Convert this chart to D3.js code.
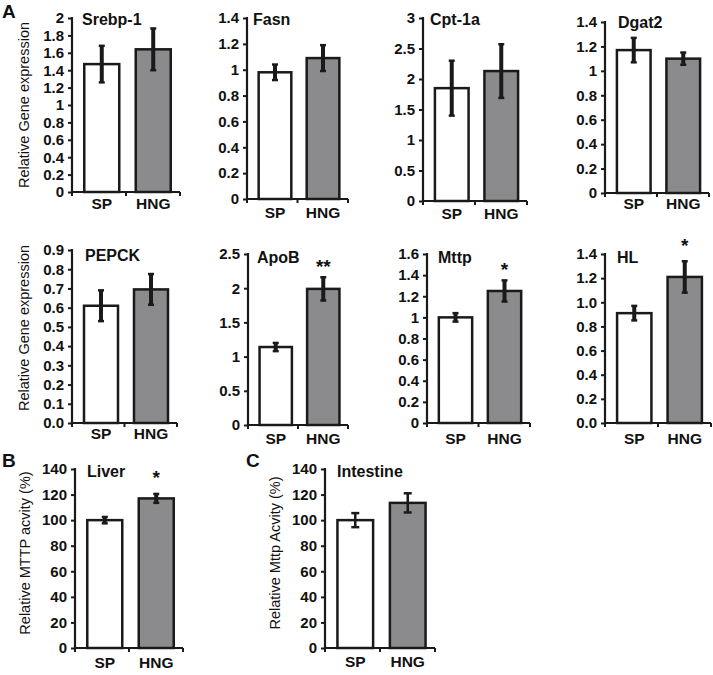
<!DOCTYPE html>
<html>
<head>
<meta charset="utf-8">
<script src="https://cdn.jsdelivr.net/npm/d3@7"></script>
<style>
  body { margin: 0; background: #fff; }
  text { font-family: "Liberation Sans", Arial, sans-serif; fill: #111; }
</style>
</head>
<body>
<script>
// ---- data ----
var groups = ["SP", "HNG"];

// panel A, relative gene expression
var genes = ["Srebp-1", "Fasn", "Cpt-1a", "Dgat2", "PEPCK", "ApoB", "Mttp", "HL"];
var spMean = [1.47, 0.98, 1.85, 1.17, 0.61, 1.14, 1.00, 0.91];
var spErr = [0.21, 0.06, 0.45, 0.10, 0.08, 0.06, 0.04, 0.06];
var hngMean = [1.64, 1.09, 2.13, 1.10, 0.695, 1.99, 1.25, 1.21];
var hngErr = [0.24, 0.10, 0.44, 0.05, 0.08, 0.17, 0.10, 0.13];
var geneSignif = ["", "", "", "", "", "**", "*", "*"];
var geneTicks = [
  ["0", "0.2", "0.4", "0.6", "0.8", "1", "1.2", "1.4", "1.6", "1.8", "2"],
  ["0", "0.2", "0.4", "0.6", "0.8", "1", "1.2", "1.4"],
  ["0", "0.5", "1", "1.5", "2", "2.5", "3"],
  ["0", "0.2", "0.4", "0.6", "0.8", "1", "1.2", "1.4"],
  ["0.0", "0.1", "0.2", "0.3", "0.4", "0.5", "0.6", "0.7", "0.8", "0.9"],
  ["0", "0.5", "1", "1.5", "2", "2.5"],
  ["0", "0.2", "0.4", "0.6", "0.8", "1", "1.2", "1.4", "1.6"],
  ["0.0", "0.2", "0.4", "0.6", "0.8", "1.0", "1.2", "1.4"]
];

// panels B and C, MTTP activity
var tissues = ["Liver", "Intestine"];
var actSp = [100, 100];
var actSpErr = [2.5, 5.5];
var actHng = [117, 113.5];
var actHngErr = [3.5, 7.5];
var actSignif = ["*", ""];
var actTicks = ["0", "20", "40", "60", "80", "100", "120", "140"];

// ---- layout (pixel frame of each little plot) ----
var geneFrames = [
  {x0: 72,  top: 18,  bot: 192, x1: 180, lab: 209, tx: 10, ty: 25,  sdy: 0},
  {x0: 247, top: 18,  bot: 199, x1: 348, lab: 218, tx: 6,  ty: 25,  sdy: 0},
  {x0: 423, top: 18,  bot: 201, x1: 527, lab: 219, tx: 7,  ty: 25,  sdy: 0},
  {x0: 605, top: 22,  bot: 193, x1: 709, lab: 209, tx: 13, ty: 28,  sdy: 0},
  {x0: 72,  top: 250, bot: 423, x1: 177, lab: 439, tx: 13, ty: 261, sdy: 0},
  {x0: 248, top: 254, bot: 425, x1: 348, lab: 444, tx: 9,  ty: 263, sdy: -1},
  {x0: 427, top: 254, bot: 423, x1: 530, lab: 444, tx: 11, ty: 263, sdy: -1},
  {x0: 605, top: 254, bot: 423, x1: 711, lab: 444, tx: 12, ty: 263, sdy: -6}
];
var actFrames = [
  {x0: 75,  top: 469, bot: 648, x1: 183, lab: 668, tx: 12, ty: 477, sdy: -7},
  {x0: 325, top: 469, bot: 648, x1: 435, lab: 667, tx: 12, ty: 477, sdy: 0}
];

var GREY = "#8b8b8d";

var svg = d3.select("body").append("svg")
    .attr("width", 713)
    .attr("height", 675);

// draw one small bar plot
function drawPanel(f, title, ticks, vals, errs, star, thinErr) {
  var g = svg.append("g");
  var tickVals = ticks.map(Number);
  var y = d3.scaleLinear()
      .domain([0, tickVals[tickVals.length - 1]])
      .range([f.bot, f.top]);
  var x = d3.scaleBand()
      .domain(groups)
      .range([f.x0 + 3, f.x1])
      .paddingInner(0.32)
      .paddingOuter(0.18);

  // bars
  g.selectAll("rect.bar")
    .data(groups)
    .enter().append("rect")
      .attr("class", "bar")
      .attr("x", function(d) { return x(d); })
      .attr("width", x.bandwidth())
      .attr("y", function(d, i) { return y(vals[i]); })
      .attr("height", function(d, i) { return f.bot - y(vals[i]); })
      .attr("fill", function(d, i) { return i == 0 ? "#fff" : GREY; })
      .attr("stroke", "#1a1a1a")
      .attr("stroke-width", 2.5);

  // error bars
  var capW = thinErr ? 4 : 3;
  groups.forEach(function(d, i) {
    var cx = x(d) + x.bandwidth() / 2;
    var lo = y(vals[i] - errs[i]), hi = y(vals[i] + errs[i]);
    g.append("line")
      .attr("x1", cx).attr("x2", cx)
      .attr("y1", lo).attr("y2", hi)
      .attr("stroke", "#1a1a1a")
      .attr("stroke-width", thinErr ? 2.5 : 4);
    [lo, hi].forEach(function(yy) {
      g.append("line")
        .attr("x1", cx - capW).attr("x2", cx + capW)
        .attr("y1", yy).attr("y2", yy)
        .attr("stroke", "#1a1a1a")
        .attr("stroke-width", 2.5);
    });
  });

  // y axis
  var yAxis = d3.axisLeft(y)
      .tickValues(tickVals)
      .tickFormat(function(d, i) { return ticks[i]; })
      .tickSize(4)
      .tickPadding(4);
  var ya = g.append("g")
      .attr("transform", "translate(" + f.x0 + ",0)")
      .call(yAxis);
  ya.select(".domain").remove();
  ya.append("line")
    .attr("x1", 0).attr("x2", 0)
    .attr("y1", f.top - 1).attr("y2", f.bot + 1)
    .attr("stroke", "#1a1a1a").attr("stroke-width", 2.2);
  ya.selectAll(".tick line").attr("stroke", "#1a1a1a").attr("stroke-width", 2);
  ya.selectAll(".tick text")
    .style("font-size", "15px")
    .style("font-weight", "bold")
    .attr("fill", "#111");

  // x axis line with ticks at ends and middle
  g.append("line")
    .attr("x1", f.x0 - 1).attr("x2", f.x1)
    .attr("y1", f.bot).attr("y2", f.bot)
    .attr("stroke", "#1a1a1a").attr("stroke-width", 2.2);
  [f.x0, (f.x0 + f.x1) / 2, f.x1].forEach(function(tx) {
    g.append("line")
      .attr("x1", tx).attr("x2", tx)
      .attr("y1", f.bot).attr("y2", f.bot + 4)
      .attr("stroke", "#1a1a1a").attr("stroke-width", 2);
  });

  // category labels
  g.selectAll("text.cat")
    .data(groups)
    .enter().append("text")
      .attr("class", "cat")
      .attr("x", function(d) { return x(d) + x.bandwidth() / 2; })
      .attr("y", f.lab)
      .attr("text-anchor", "middle")
      .style("font-size", "15.5px")
      .style("font-weight", "bold")
      .text(function(d) { return d; });

  // title
  g.append("text")
    .attr("x", f.x0 + f.tx)
    .attr("y", f.ty)
    .style("font-size", "16px")
    .style("font-weight", "bold")
    .text(title);

  // significance marks
  if (star) {
    g.append("text")
      .attr("x", x("HNG") + x.bandwidth() / 2)
      .attr("y", y(vals[1] + errs[1]) - 3 + f.sdy)
      .attr("text-anchor", "middle")
      .style("font-size", "19px")
      .style("font-weight", "bold")
      .text(star);
  }
}

genes.forEach(function(name, i) {
  drawPanel(geneFrames[i], name, geneTicks[i],
            [spMean[i], hngMean[i]], [spErr[i], hngErr[i]], geneSignif[i], false);
});
tissues.forEach(function(name, i) {
  drawPanel(actFrames[i], name, actTicks,
            [actSp[i], actHng[i]], [actSpErr[i], actHngErr[i]], actSignif[i], i == 1);
});

// rotated y labels
function yLabel(x, y, txt) {
  svg.append("text")
    .attr("transform", "translate(" + x + "," + y + ") rotate(-90)")
    .attr("text-anchor", "middle")
    .style("font-size", "14.5px")
    .text(txt);
}
yLabel(29, 105, "Relative Gene expression");
yLabel(29, 328, "Relative Gene expression");
yLabel(30, 553, "Relative MTTP acvity (%)");
yLabel(280, 553, "Relative Mttp Acvity (%)");

// panel letters
function letter(x, y, t) {
  svg.append("text")
    .attr("x", x).attr("y", y)
    .style("font-size", "19px")
    .style("font-weight", "bold")
    .text(t);
}
letter(2, 18, "A");
letter(2, 467, "B");
letter(246, 467, "C");
</script>
</body>
</html>
